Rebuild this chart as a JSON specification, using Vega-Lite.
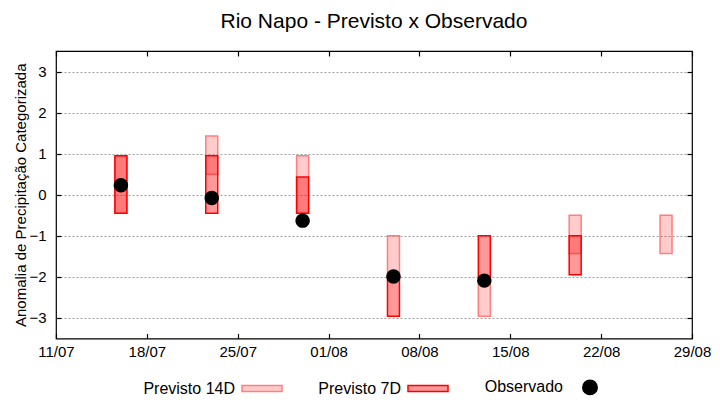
{
  "$schema": "https://vega.github.io/schema/vega-lite/v6.json",
  "width": 636,
  "height": 287.5,
  "autosize": {"type": "none"},
  "padding": {"left": 56, "top": 51, "right": 28, "bottom": 61.5},
  "title": {"text": "Rio Napo - Previsto x Observado", "fontSize": 21, "font": "Liberation Sans", "fontWeight": "normal", "baseline": "alphabetic", "offset": 1, "frame": "group", "color": "black", "anchor": "middle"},
  "config": {
    "view": {"stroke": "black", "strokeWidth": 1.2},
    "font": "Liberation Sans",
    "axis": {"labelFont": "Liberation Sans", "labelFontSize": 15, "labelColor": "black", "titleFont": "Liberation Sans", "titleFontSize": 15, "titleFontWeight": "normal", "titleColor": "black", "tickColor": "black", "tickWidth": 1.2, "domain": false},
    "legend": {"orient": "none", "legendX": 185, "legendY": 315, "direction": "horizontal", "labelFont": "Liberation Sans", "labelFontSize": 16, "labelColor": "black", "symbolSize": 1600, "symbolStrokeWidth": 1.5, "labelAlign": "right", "labelOffset": -48, "columnPadding": 33, "labelLimit": 300}
  },
  "datasets": {
    "p14": [
      {"data": "2024-07-16", "serie": "Previsto 14D", "lo": -0.45, "hi": 0.95},
      {"data": "2024-07-23", "serie": "Previsto 14D", "lo": 0.5, "hi": 1.43},
      {"data": "2024-07-30", "serie": "Previsto 14D", "lo": -0.45, "hi": 0.95},
      {"data": "2024-08-06", "serie": "Previsto 14D", "lo": -2.0, "hi": -1.0},
      {"data": "2024-08-13", "serie": "Previsto 14D", "lo": -2.96, "hi": -2.0},
      {"data": "2024-08-20", "serie": "Previsto 14D", "lo": -1.43, "hi": -0.5},
      {"data": "2024-08-27", "serie": "Previsto 14D", "lo": -1.43, "hi": -0.5}
    ],
    "p7": [
      {"data": "2024-07-16", "serie": "Previsto 7D", "lo": -0.45, "hi": 0.95},
      {"data": "2024-07-23", "serie": "Previsto 7D", "lo": -0.45, "hi": 0.95},
      {"data": "2024-07-30", "serie": "Previsto 7D", "lo": -0.45, "hi": 0.43},
      {"data": "2024-08-06", "serie": "Previsto 7D", "lo": -2.96, "hi": -2.0},
      {"data": "2024-08-13", "serie": "Previsto 7D", "lo": -2.0, "hi": -1.0},
      {"data": "2024-08-20", "serie": "Previsto 7D", "lo": -1.95, "hi": -1.0}
    ],
    "obs": [
      {"data": "2024-07-16", "serie": "Observado", "valor": 0.23},
      {"data": "2024-07-23", "serie": "Observado", "valor": -0.08},
      {"data": "2024-07-30", "serie": "Observado", "valor": -0.63},
      {"data": "2024-08-06", "serie": "Observado", "valor": -1.99},
      {"data": "2024-08-13", "serie": "Observado", "valor": -2.09}
    ]
  },
  "layer": [
    {
      "data": {"name": "p14"},
      "mark": {"type": "bar", "width": 12, "strokeWidth": 1.5},
      "encoding": {
        "x": {"field": "data", "type": "temporal",
          "scale": {"type": "utc", "padding": 0, "domain": [{"year": 2024, "month": 7, "date": 11, "utc": true}, {"year": 2024, "month": 8, "date": 29, "utc": true}]},
          "axis": {"orient": "bottom", "title": null, "labelExpr": "utcFormat(datum.value, '%d/%m')", "labelFlush": false, "labelOverlap": false, "grid": false, "tickSize": -5, "labelPadding": 10.5,
            "values": [{"year": 2024, "month": 7, "date": 11, "utc": true}, {"year": 2024, "month": 7, "date": 18, "utc": true}, {"year": 2024, "month": 7, "date": 25, "utc": true}, {"year": 2024, "month": 8, "date": 1, "utc": true}, {"year": 2024, "month": 8, "date": 8, "utc": true}, {"year": 2024, "month": 8, "date": 15, "utc": true}, {"year": 2024, "month": 8, "date": 22, "utc": true}, {"year": 2024, "month": 8, "date": 29, "utc": true}]}},
        "y": {"field": "lo", "type": "quantitative",
          "scale": {"domain": [-3.5, 3.5], "nice": false, "zero": false},
          "axis": {"orient": "left", "title": "Anomalia de Precipitação Categorizada", "values": [-3, -2, -1, 0, 1, 2, 3], "labelFlush": false, "grid": true, "gridColor": "#a0a0a0", "gridDash": [2, 2], "gridWidth": 1, "tickSize": -5, "labelPadding": 15, "titlePadding": 0}},
        "y2": {"field": "hi"},
        "fill": {"field": "serie", "type": "nominal", "scale": {"domain": ["Previsto 14D", "Previsto 7D", "Observado"], "range": ["rgba(255,0,0,0.2)", "rgba(255,0,0,0.4)", "black"]}, "legend": {"title": null}},
        "stroke": {"field": "serie", "type": "nominal", "scale": {"domain": ["Previsto 14D", "Previsto 7D", "Observado"], "range": ["#ff7f7f", "#ff0000", "black"]}, "legend": {"title": null}}
      }
    },
    {
      "data": {"name": "p7"},
      "mark": {"type": "bar", "width": 12, "strokeWidth": 1.5},
      "encoding": {
        "x": {"field": "data", "type": "temporal",
          "axis": {"orient": "top", "title": null, "labels": false, "grid": false, "tickSize": -5,
            "values": [{"year": 2024, "month": 7, "date": 11, "utc": true}, {"year": 2024, "month": 7, "date": 18, "utc": true}, {"year": 2024, "month": 7, "date": 25, "utc": true}, {"year": 2024, "month": 8, "date": 1, "utc": true}, {"year": 2024, "month": 8, "date": 8, "utc": true}, {"year": 2024, "month": 8, "date": 15, "utc": true}, {"year": 2024, "month": 8, "date": 22, "utc": true}, {"year": 2024, "month": 8, "date": 29, "utc": true}]}},
        "y": {"field": "lo", "type": "quantitative",
          "axis": {"orient": "right", "title": null, "labels": false, "grid": false, "tickSize": -5, "values": [-3, -2, -1, 0, 1, 2, 3]}},
        "y2": {"field": "hi"},
        "fill": {"field": "serie", "type": "nominal", "legend": {"title": null}},
        "stroke": {"field": "serie", "type": "nominal", "legend": {"title": null}}
      }
    },
    {
      "data": {"name": "obs"},
      "mark": {"type": "point", "filled": true, "size": 1600, "opacity": 1},
      "encoding": {
        "x": {"field": "data", "type": "temporal", "axis": null},
        "y": {"field": "valor", "type": "quantitative", "axis": null},
        "fill": {"field": "serie", "type": "nominal", "legend": {"title": null}},
        "shape": {"field": "serie", "type": "nominal", "scale": {"domain": ["Previsto 14D", "Previsto 7D", "Observado"], "range": ["M-1,-0.15H1V0.15H-1Z", "M-1,-0.15H1V0.15H-1Z", "M-0.36,0A0.36,0.36,0,1,0,0.36,0A0.36,0.36,0,1,0,-0.36,0Z"]}, "legend": {"title": null}}
      }
    }
  ],
  "resolve": {"axis": {"x": "independent", "y": "independent"}}
}
